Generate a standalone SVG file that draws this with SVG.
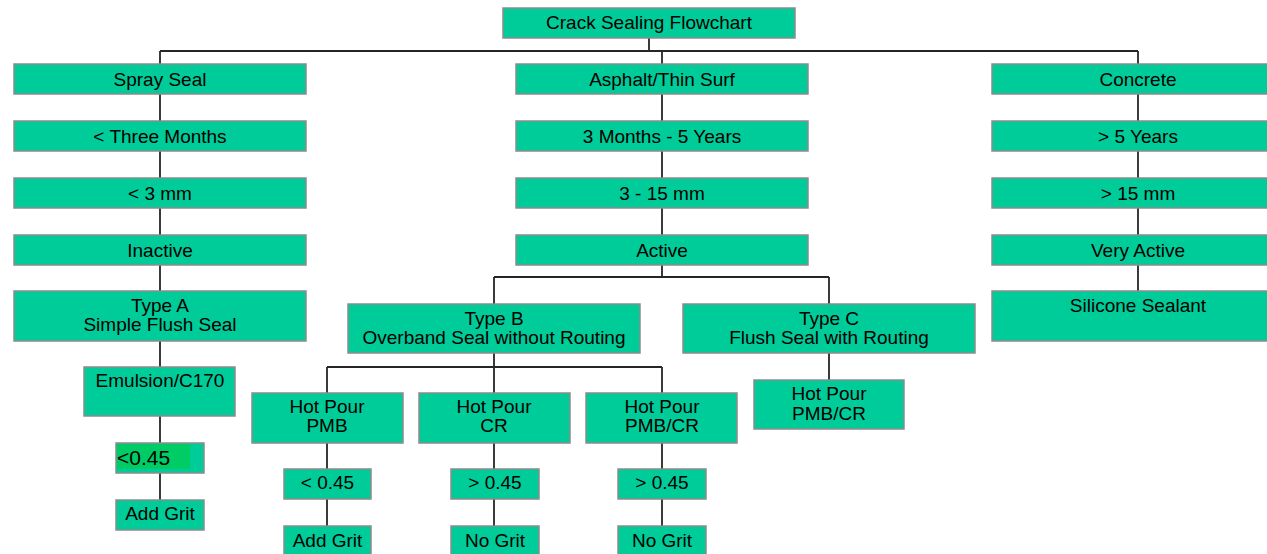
<svg xmlns="http://www.w3.org/2000/svg" width="1267" height="554" viewBox="0 0 1267 554">
<style>
.b{fill:#00CC99;stroke:#8c8c8c;stroke-width:1.5}
.t{font-family:"Liberation Sans",Arial,sans-serif;font-size:19px;fill:#000;text-anchor:middle}
.c{fill:none;stroke:#262626;stroke-width:1.8}
</style>
<rect width="1267" height="554" fill="#fff"/>
<g id="connectors">
<path class="c" d="M649,38V51M160,51H1138M160,51V64M662,51V64M1138,51V64"/>
<path class="c" d="M160,94V121M160,151V178M160,208V235M160,265V291M160,341V367M160,416V443M160,473V500"/>
<path class="c" d="M662,94V121M662,151V178M662,208V235M662,265V277M494,277H829M494,277V304M829,277V304"/>
<path class="c" d="M1138,94V121M1138,151V178M1138,208V235M1138,265V291"/>
<path class="c" d="M494,353V367M327,367H662M327,367V393M494,367V393M662,367V393M829,353V380"/>
<path class="c" d="M327,443V469M327,499V526M494,443V469M494,499V526M662,443V469M662,499V526"/>
</g>
<g id="n-title"><rect class="b" x="503" y="8" width="292" height="30"/><text class="t" x="649" y="29">Crack Sealing Flowchart</text></g>
<g id="n-spray"><rect class="b" x="14" y="64" width="292" height="30"/><text class="t" x="160" y="86">Spray Seal</text></g>
<g id="n-three"><rect class="b" x="14" y="121" width="292" height="30"/><text class="t" x="160" y="143">&lt; Three Months</text></g>
<g id="n-3mm"><rect class="b" x="14" y="178" width="292" height="30"/><text class="t" x="160" y="200">&lt; 3 mm</text></g>
<g id="n-inactive"><rect class="b" x="14" y="235" width="292" height="30"/><text class="t" x="160" y="257">Inactive</text></g>
<g id="n-typeA"><rect class="b" x="14" y="291" width="292" height="50"/><text class="t" x="160" y="312">Type A</text><text class="t" x="160" y="331">Simple Flush Seal</text></g>
<g id="n-emulsion"><rect class="b" x="84" y="367" width="151" height="49"/><text class="t" x="160" y="387">Emulsion/C170</text></g>
<g id="n-lt045a"><rect class="b" x="116" y="443" width="88" height="30"/><rect x="117" y="444" width="73" height="25" fill="#00CC66"/><text x="117" y="465" style="font-family:'Liberation Sans',Arial,sans-serif;font-size:21px">&lt;0.45</text></g>
<g id="n-gritA"><rect class="b" x="116" y="500" width="88" height="30"/><text class="t" x="160" y="520">Add Grit</text></g>
<g id="n-asphalt"><rect class="b" x="516" y="64" width="292" height="30"/><text class="t" x="662" y="86">Asphalt/Thin Surf</text></g>
<g id="n-3m5y"><rect class="b" x="516" y="121" width="292" height="30"/><text class="t" x="662" y="143">3 Months - 5 Years</text></g>
<g id="n-3-15"><rect class="b" x="516" y="178" width="292" height="30"/><text class="t" x="662" y="200">3 - 15 mm</text></g>
<g id="n-active"><rect class="b" x="516" y="235" width="292" height="30"/><text class="t" x="662" y="257">Active</text></g>
<g id="n-typeB"><rect class="b" x="348" y="304" width="292" height="49"/><text class="t" x="494" y="325">Type B</text><text class="t" x="494" y="344">Overband Seal without Routing</text></g>
<g id="n-typeC"><rect class="b" x="683" y="304" width="292" height="49"/><text class="t" x="829" y="325">Type C</text><text class="t" x="829" y="344">Flush Seal with Routing</text></g>
<g id="n-hpPMB"><rect class="b" x="252" y="393" width="151" height="50"/><text class="t" x="327" y="413">Hot Pour</text><text class="t" x="327" y="432">PMB</text></g>
<g id="n-hpCR"><rect class="b" x="419" y="393" width="151" height="50"/><text class="t" x="494" y="413">Hot Pour</text><text class="t" x="494" y="432">CR</text></g>
<g id="n-hpPMBCR"><rect class="b" x="586" y="393" width="151" height="50"/><text class="t" x="662" y="413">Hot Pour</text><text class="t" x="662" y="432">PMB/CR</text></g>
<g id="n-hpPMBCR2"><rect class="b" x="754" y="380" width="150" height="49"/><text class="t" x="829" y="400">Hot Pour</text><text class="t" x="829" y="420">PMB/CR</text></g>
<g id="n-lt045b"><rect class="b" x="284" y="469" width="87" height="30"/><text class="t" x="327.5" y="489">&lt; 0.45</text></g>
<g id="n-gt045a"><rect class="b" x="451" y="469" width="88" height="30"/><text class="t" x="495" y="489">&gt; 0.45</text></g>
<g id="n-gt045b"><rect class="b" x="618" y="469" width="88" height="30"/><text class="t" x="662" y="489">&gt; 0.45</text></g>
<g id="n-gritB"><rect class="b" x="284" y="526" width="87" height="30"/><text class="t" x="327.5" y="547">Add Grit</text></g>
<g id="n-nogrit1"><rect class="b" x="451" y="526" width="88" height="30"/><text class="t" x="495" y="547">No Grit</text></g>
<g id="n-nogrit2"><rect class="b" x="618" y="526" width="88" height="30"/><text class="t" x="662" y="547">No Grit</text></g>
<g id="n-concrete"><rect class="b" x="992" y="64" width="292" height="30"/><text class="t" x="1138" y="86">Concrete</text></g>
<g id="n-5y"><rect class="b" x="992" y="121" width="292" height="30"/><text class="t" x="1138" y="143">&gt; 5 Years</text></g>
<g id="n-15mm"><rect class="b" x="992" y="178" width="292" height="30"/><text class="t" x="1138" y="200">&gt; 15 mm</text></g>
<g id="n-vactive"><rect class="b" x="992" y="235" width="292" height="30"/><text class="t" x="1138" y="257">Very Active</text></g>
<g id="n-silicone"><rect class="b" x="992" y="291" width="292" height="50"/><text class="t" x="1138" y="312">Silicone Sealant</text></g>
</svg>
